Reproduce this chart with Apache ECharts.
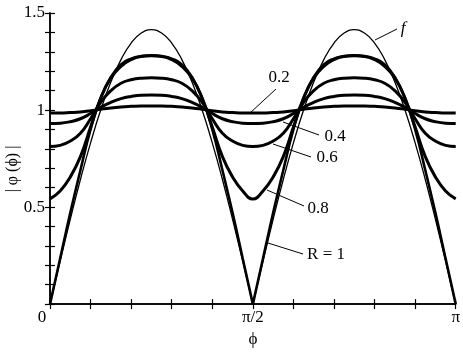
<!DOCTYPE html>
<html>
<head>
<meta charset="utf-8">
<script src="https://cdn.jsdelivr.net/npm/echarts@6/dist/echarts.min.js"></script>
<style>
    html, body { margin: 0; padding: 0; background: #fff; }
    #chart { width: 463px; height: 353px; }
</style>
</head>
<body>
<div id="chart"></div>
<script>
// =====================================================
// DATA (phi in units of pi)
// =====================================================

const phi = [
    0.000, 0.025, 0.050, 0.075, 0.100, 0.125, 0.150, 0.175, 0.200, 0.225, 0.250,
    0.275, 0.300, 0.325, 0.350, 0.375, 0.400, 0.425, 0.450, 0.475, 0.500,
    0.525, 0.550, 0.575, 0.600, 0.625, 0.650, 0.675, 0.700, 0.725, 0.750,
    0.775, 0.800, 0.825, 0.850, 0.875, 0.900, 0.925, 0.950, 0.975, 1.000
];

const r02 = [
    0.985, 0.985, 0.987, 0.990, 0.996, 1.004, 1.011, 1.016, 1.019, 1.021, 1.021,
    1.021, 1.019, 1.016, 1.011, 1.004, 0.996, 0.990, 0.987, 0.985, 0.985,
    0.985, 0.987, 0.990, 0.996, 1.004, 1.011, 1.016, 1.019, 1.021, 1.021,
    1.021, 1.019, 1.016, 1.011, 1.004, 0.996, 0.990, 0.987, 0.985, 0.985
];

const r04 = [
    0.930, 0.932, 0.940, 0.955, 0.982, 1.014, 1.040, 1.059, 1.070, 1.076, 1.077,
    1.076, 1.070, 1.059, 1.040, 1.014, 0.982, 0.955, 0.940, 0.932, 0.930,
    0.932, 0.940, 0.955, 0.982, 1.014, 1.040, 1.059, 1.070, 1.076, 1.077,
    1.076, 1.070, 1.059, 1.040, 1.014, 0.982, 0.955, 0.940, 0.932, 0.930
];

const r06 = [
    0.812, 0.818, 0.840, 0.880, 0.955, 1.040, 1.100, 1.138, 1.156, 1.164, 1.166,
    1.164, 1.156, 1.138, 1.100, 1.040, 0.955, 0.880, 0.840, 0.818, 0.812,
    0.818, 0.840, 0.880, 0.955, 1.040, 1.100, 1.138, 1.156, 1.164, 1.166,
    1.164, 1.156, 1.138, 1.100, 1.040, 0.955, 0.880, 0.840, 0.818, 0.812
];

const r08 = [
    0.542, 0.583, 0.655, 0.760, 0.912, 1.062, 1.165, 1.225, 1.260, 1.276, 1.280,
    1.276, 1.260, 1.225, 1.165, 1.062, 0.912, 0.760, 0.655, 0.583, 0.542,
    0.583, 0.655, 0.760, 0.912, 1.062, 1.165, 1.225, 1.260, 1.276, 1.280,
    1.276, 1.260, 1.225, 1.165, 1.062, 0.912, 0.760, 0.655, 0.583, 0.542
];

const r10 = [
    0.000, 0.235, 0.470, 0.690, 0.900, 1.062, 1.170, 1.235, 1.265, 1.278, 1.282,
    1.278, 1.265, 1.235, 1.170, 1.062, 0.900, 0.690, 0.470, 0.235, 0.000,
    0.235, 0.470, 0.690, 0.900, 1.062, 1.170, 1.235, 1.265, 1.278, 1.282,
    1.278, 1.265, 1.235, 1.170, 1.062, 0.900, 0.690, 0.470, 0.235, 0.000
];

const fLimit = [
    0.000, 0.221, 0.437, 0.642, 0.831, 1.000, 1.144, 1.260, 1.345, 1.397, 1.414,
    1.397, 1.345, 1.260, 1.144, 1.000, 0.831, 0.642, 0.437, 0.221, 0.000,
    0.221, 0.437, 0.642, 0.831, 1.000, 1.144, 1.260, 1.345, 1.397, 1.414,
    1.397, 1.345, 1.260, 1.144, 1.000, 0.831, 0.642, 0.437, 0.221, 0.000
];

const yTickLabels = { '0.5': '0.5', '1': '1', '1.5': '1.5' };

// =====================================================
// HELPERS
// =====================================================

const FONT = 'Liberation Serif';

// pair phi with values; break the line at inner zeros so the cusps stay sharp
function make_data(vals, cusps) {
    const out = [];
    vals.forEach((v, i) => {
        if (cusps && v === 0 && i > 0 && i < vals.length - 1) {
            out.push([phi[i], v], [phi[i], null], [phi[i], v]);
        } else {
            out.push([phi[i], v]);
        }
    });
    return out;
}

function curve(name, vals, width, cusps) {
    return {
        name: name,
        type: 'line',
        data: make_data(vals, cusps),
        smooth: true,
        symbol: 'none',
        connectNulls: false,
        lineStyle: { color: '#000', width: width },
        silent: true
    };
}

function x_label(v) {
    if (Math.abs(v) < 1e-6) return '{z|0}';
    if (Math.abs(v - 0.5) < 1e-6) return 'π/2';
    if (Math.abs(v - 1) < 1e-6) return 'π';
    return '';
}

function y_label(v) {
    const key = String(Math.round(v * 10) / 10);
    return yTickLabels[key] || '';
}

const axis_line = { show: true, lineStyle: { color: '#000', width: 1.5 } };
const tick = { show: true, inside: true, length: 5, lineStyle: { color: '#000', width: 1.2 } };

function label_text(txt, x, y, italic) {
    return {
        type: 'text', x: x, y: y, silent: true,
        style: {
            text: txt, fill: '#000', font: (italic ? 'italic ' : '') + '17px "' + FONT + '"',
            align: 'center', verticalAlign: 'middle'
        }
    };
}

function leader(x1, y1, x2, y2) {
    return {
        type: 'line', silent: true,
        shape: { x1: x1, y1: y1, x2: x2, y2: y2 },
        style: { stroke: '#000', lineWidth: 1 }
    };
}

// =====================================================
// CHART
// =====================================================

const chart = echarts.init(document.getElementById('chart'));

chart.setOption({
    animation: false,
    backgroundColor: '#fff',
    grid: { left: 50, right: 7, top: 13, bottom: 44 },
    xAxis: [{
        type: 'value', min: 0, max: 1, interval: 0.1, position: 'bottom',
        axisLine: axis_line, axisTick: tick, splitLine: { show: false },
        axisLabel: {
            formatter: x_label, color: '#000', fontFamily: FONT, fontSize: 17, margin: 5,
            rich: { z: { fontFamily: FONT, fontSize: 17, color: '#000', padding: [0, 16, 0, 0] } }
        },
        name: 'ϕ', nameLocation: 'middle', nameGap: 26,
        nameTextStyle: { color: '#000', fontFamily: FONT, fontSize: 17 }
    }, {
        type: 'value', min: 0, max: 1, interval: 0.1, position: 'top',
        axisLine: axis_line, axisTick: tick, splitLine: { show: false },
        axisLabel: { show: false }
    }],
    yAxis: [{
        type: 'value', min: 0, max: 1.5, interval: 0.1, position: 'left',
        axisLine: axis_line, axisTick: tick, splitLine: { show: false },
        axisLabel: { formatter: y_label, color: '#000', fontFamily: FONT, fontSize: 17, margin: 5 }
    }, {
        type: 'value', min: 0, max: 1.5, interval: 0.1, position: 'right',
        axisLine: axis_line, axisTick: tick, splitLine: { show: false },
        axisLabel: { show: false }
    }],
    series: [
        curve('f', fLimit, 1.3, true),
        curve('R = 1', r10, 2.6, true),
        curve('0.8', r08, 3, false),
        curve('0.6', r06, 3, false),
        curve('0.4', r04, 3, false),
        curve('0.2', r02, 3, false)
    ],
    graphic: [
        {
            type: 'text', x: 13, y: 169, rotation: Math.PI / 2, silent: true,
            style: {
                text: '| φ (ϕ) |', fill: '#000', font: '16px "' + FONT + '"',
                align: 'center', verticalAlign: 'middle'
            }
        },
        leader(375, 40, 397, 29),
        label_text('f', 403, 29, true),
        leader(250, 113, 276, 89),
        label_text('0.2', 279, 78),
        leader(283, 122, 319, 135),
        label_text('0.4', 335, 137),
        leader(273, 144, 311, 157),
        label_text('0.6', 327, 158),
        leader(267, 190, 304, 206),
        label_text('0.8', 318, 209),
        leader(268, 243, 303, 254),
        label_text('R = 1', 326, 255)
    ]
});

window.addEventListener('resize', function() {
    chart.resize();
});
</script>
</body>
</html>
